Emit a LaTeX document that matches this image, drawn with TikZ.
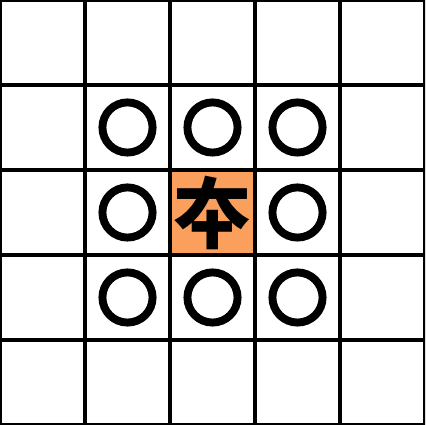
\documentclass[tikz,border=0pt]{standalone}
\usepackage{fontspec}
\newfontfamily\cjk{Noto Sans CJK SC}
\definecolor{piece}{HTML}{FBA05C}
\begin{document}
\begin{tikzpicture}[x=2cm,y=2cm,
  gridline/.style={line width=2.4pt,black},
  move/.style={circle,draw=black,line width=5.3pt,minimum size=1.18cm,inner sep=0pt}]
\useasboundingbox (0,0) rectangle (5,5);
\clip (0,0) rectangle (5,5);
\fill[white] (0,0) rectangle (5,5);
\fill[piece] (2,2) rectangle (3,3);
\draw[gridline,step=2cm] (0,0) grid (5,5);
\node[inner sep=0pt] (king) at (2.5,2.5) {\cjk\bfseries\fontsize{52pt}{52pt}\selectfont 夲};
\foreach \x/\y/\n in {1/3/a,2/3/b,3/3/c,1/2/d,3/2/e,1/1/f,2/1/g,3/1/h}
  \node[move] (m\n) at (\x+0.5,\y+0.5) {};
\end{tikzpicture}
\end{document}
